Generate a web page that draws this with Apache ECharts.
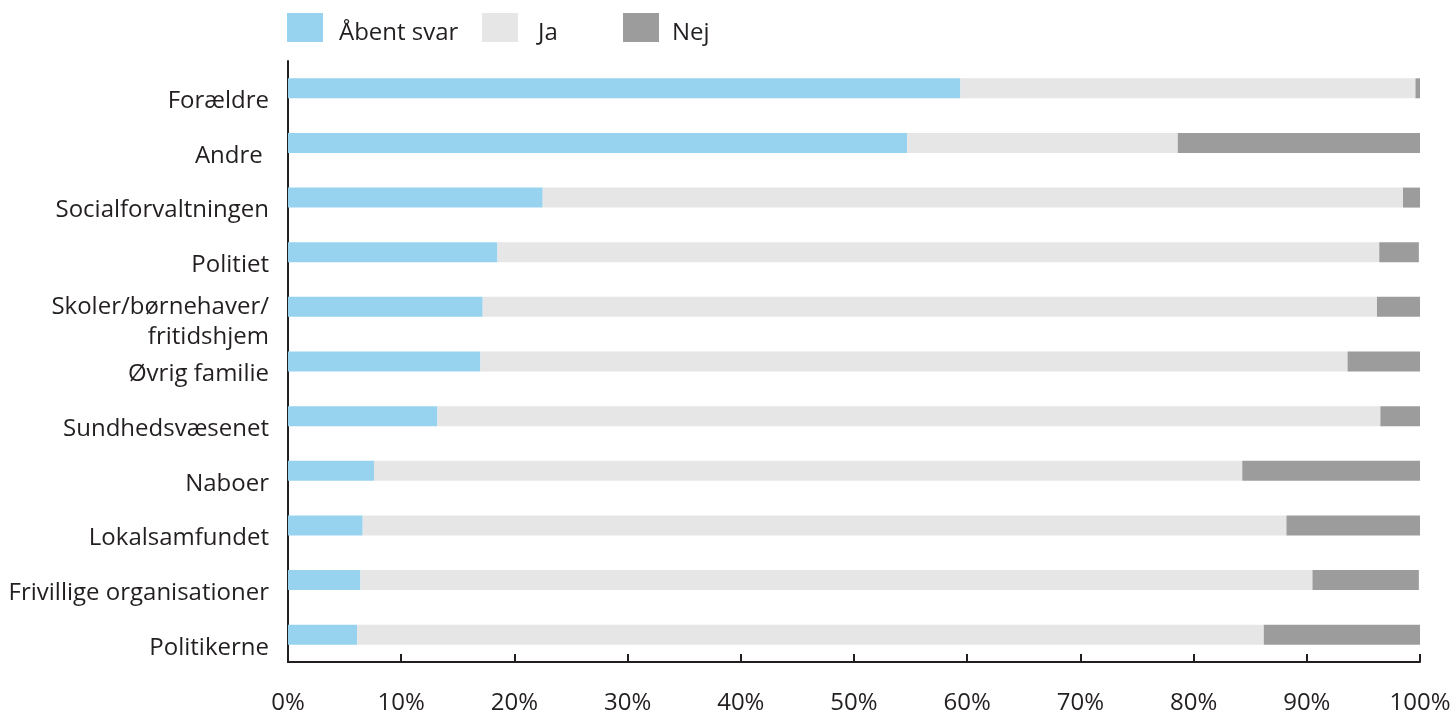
<!DOCTYPE html>
<html>
<head>
<meta charset="utf-8">
<script src="https://cdn.jsdelivr.net/npm/echarts@6/dist/echarts.min.js"></script>
<style>
  html, body { margin: 0; padding: 0; background: #ffffff; }
  #chart { width: 1454px; height: 715px; }
</style>
</head>
<body>
<div id="chart"></div>
<script>
// categories top to bottom
var categories = ['Forældre', 'Andre ', 'Socialforvaltningen', 'Politiet', 'Skoler/børnehaver/\nfritidshjem',
  'Øvrig familie', 'Sundhedsvæsenet', 'Naboer', 'Lokalsamfundet', 'Frivillige organisationer', 'Politikerne']

// percentages
var aabentSvar = [59.4, 54.7, 22.5, 18.5, 17.2, 17.0, 13.2, 7.6, 6.6, 6.4, 6.1]
var ja = [40.2, 23.9, 76.0, 77.9, 79.0, 76.6, 83.3, 76.7, 81.6, 84.1, 80.1]
var nej = [0.4, 21.4, 1.5, 3.5, 3.8, 6.4, 3.5, 15.7, 11.8, 9.4, 13.8]

var seriesNames = ['Åbent svar', 'Ja', 'Nej']
var colors = ['#97d3ee', '#e6e6e6', '#9c9c9c']
var textColor = '#231f20'
var fontFamily = 'Open Sans'

function legendAt (i, left, gap) {
  return {
    data: [seriesNames[i]],
    left: left,
    top: 13,
    padding: 0,
    itemWidth: 36,
    itemHeight: 29,
    icon: 'rect',
    formatter: '{a|{name}}',
    textStyle: {
      color: textColor, fontSize: 24, fontFamily: fontFamily,
      rich: { a: { color: textColor, fontSize: 24, fontFamily: fontFamily, padding: [12, 0, 0, gap] } }
    },
    selectedMode: false
  }
}

// labels sit a bit below the bar centre; the wrapped one starts level with its bar
function catLabel (v) {
  var parts = v.split('\n')
  if (parts.length > 1) return '{u| }\n{u|' + parts[0] + '}\n{u|' + parts[1] + '}'
  return '{s|' + v + '}'
}

var chart = echarts.init(document.getElementById('chart'))
chart.setOption({
  animation: false,
  color: colors,
  legend: [legendAt(0, 287, 11), legendAt(1, 482, 15), legendAt(2, 623, 8)],
  grid: { left: 288, right: 34, top: 61, bottom: 53 },
  xAxis: {
    type: 'value',
    min: 0,
    max: 100,
    interval: 10,
    axisLine: { show: true, lineStyle: { color: textColor, width: 2 } },
    axisTick: { show: true, inside: true, length: 8, lineStyle: { color: textColor, width: 2 } },
    splitLine: { show: false },
    axisLabel: { formatter: '{value}%', color: textColor, fontSize: 24, fontFamily: fontFamily, margin: 29 }
  },
  yAxis: {
    type: 'category',
    inverse: true,
    data: categories,
    axisLine: { show: true, lineStyle: { color: textColor, width: 2 } },
    axisTick: { show: false },
    axisLabel: {
      color: textColor, fontSize: 24, fontFamily: fontFamily, margin: 19, align: 'right', lineHeight: 30,
      formatter: catLabel,
      rich: {
        s: { color: textColor, fontSize: 24, fontFamily: fontFamily, lineHeight: 30, padding: [26, 0, 0, 0] },
        u: { color: textColor, fontSize: 24, fontFamily: fontFamily, lineHeight: 30 }
      }
    }
  },
  series: [
    { name: seriesNames[0], type: 'bar', stack: 'total', barWidth: 20, data: aabentSvar },
    { name: seriesNames[1], type: 'bar', stack: 'total', barWidth: 20, data: ja },
    { name: seriesNames[2], type: 'bar', stack: 'total', barWidth: 20, data: nej }
  ]
})
</script>
</body>
</html>
